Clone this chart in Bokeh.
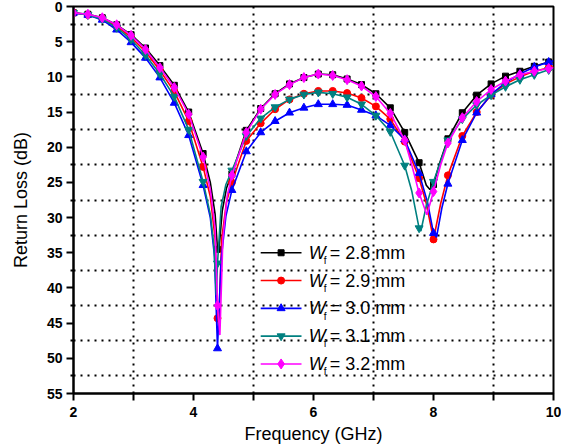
from bokeh.plotting import figure
from bokeh.models import Range1d, FixedTicker, ColumnDataSource
from bokeh.core.properties import value
from bokeh.embed import file_html
from bokeh.resources import INLINE

# Frequencies (GHz) at which each trace carries a symbol
freq = [2.00, 2.24, 2.48, 2.72, 2.96, 3.20, 3.44, 3.68, 3.92, 4.16,
        4.40, 4.64, 4.88, 5.12, 5.36, 5.60, 5.84, 6.08, 6.32, 6.56,
        6.80, 7.04, 7.28, 7.52, 7.76, 8.00, 8.24, 8.48, 8.72, 8.96,
        9.20, 9.44, 9.68, 9.92]
f_stop = 10.0

# Return loss (dB) at the symbol frequencies, one list per feed width
rl_28 = [0.9, 1.1, 1.6, 2.6, 4.0, 5.9, 8.4, 11.2, 15.0, 20.9,
         34.5, 23.8, 17.6, 14.5, 12.4, 11.0, 10.1, 9.6, 9.7, 10.3,
         11.1, 12.4, 14.4, 17.9, 22.2, 25.3, 18.8, 15.1, 12.6, 11.0,
         9.9, 9.2, 8.5, 7.9]
rl_29 = [0.9, 1.2, 1.7, 2.8, 4.4, 6.4, 9.1, 12.1, 16.3, 22.8,
         44.3, 25.0, 19.1, 16.6, 14.6, 13.2, 12.4, 12.0, 12.0, 12.3,
         13.0, 14.2, 16.0, 19.2, 24.4, 33.1, 24.0, 18.4, 15.0, 12.6,
         11.0, 10.0, 9.2, 8.7]
rl_30 = [0.9, 1.2, 1.9, 3.3, 5.1, 7.3, 10.1, 13.7, 18.3, 25.4,
         48.6, 26.1, 20.6, 17.9, 16.3, 15.1, 14.4, 13.9, 13.9, 14.0,
         14.7, 15.5, 16.9, 18.9, 23.7, 32.2, 25.2, 19.0, 15.1, 12.5,
         10.8, 9.6, 8.6, 7.9]
rl_31 = [0.9, 1.2, 1.8, 3.0, 4.7, 6.9, 9.6, 12.8, 17.5, 24.9,
         36.5, 23.3, 18.4, 15.9, 14.3, 13.2, 12.5, 12.2, 12.4, 12.9,
         13.9, 15.5, 17.8, 22.6, 31.5, 24.9, 19.0, 16.0, 14.0, 12.6,
         11.4, 10.4, 9.7, 9.0]
rl_32 = [0.9, 1.1, 1.6, 2.6, 4.1, 6.1, 8.7, 11.5, 15.3, 21.4,
         42.5, 24.0, 17.9, 14.6, 12.5, 11.1, 10.1, 9.6, 9.8, 10.4,
         11.3, 12.8, 15.2, 19.0, 26.5, 26.3, 19.4, 15.8, 13.5, 11.8,
         10.6, 9.7, 9.2, 8.8]

# Return loss at the stop frequency
rl_stop = [7.8, 8.6, 7.7, 8.9, 8.7]

# Additional sweep points (between symbols) around the two resonances
dip_f_28 = [4.28, 4.36, 4.42, 4.48, 4.55, 7.88, 7.94, 8.10]
dip_v_28 = [25.0, 29.5, 35.0, 29.0, 25.8, 25.4, 26.0, 22.3]
dip_f_29 = [4.28, 4.36, 4.42, 4.47, 4.55, 7.88, 8.12]
dip_v_29 = [27.0, 33.0, 45.3, 33.0, 27.8, 28.0, 28.0]
dip_f_30 = [4.28, 4.35, 4.46, 4.54, 7.90, 8.05, 8.14]
dip_v_30 = [30.0, 35.5, 36.0, 29.8, 27.8, 32.8, 28.6]
dip_f_31 = [4.28, 4.34, 4.38, 4.46, 4.54, 7.64, 7.79, 7.88]
dip_v_31 = [29.5, 34.0, 41.0, 28.5, 25.3, 26.3, 31.9, 28.3]
dip_f_32 = [4.28, 4.36, 4.44, 4.49, 4.56, 7.64, 7.89, 8.12]
dip_v_32 = [26.0, 31.5, 46.7, 33.0, 27.0, 22.6, 29.6, 22.5]

widths = ["2.8", "2.9", "3.0", "3.1", "3.2"]
series_rl = [rl_28, rl_29, rl_30, rl_31, rl_32]
series_dip_f = [dip_f_28, dip_f_29, dip_f_30, dip_f_31, dip_f_32]
series_dip_v = [dip_v_28, dip_v_29, dip_v_30, dip_v_31, dip_v_32]

x_major = [2, 4, 6, 8, 10]
x_minor = [3, 5, 7, 9]
y_major = [0, 5, 10, 15, 20, 25, 30, 35, 40, 45, 50, 55]
y_minor = [2.5, 7.5, 12.5, 17.5, 22.5, 27.5, 32.5, 37.5, 42.5, 47.5, 52.5]

# Trace styles
colors = ["#000000", "#ff0000", "#0000ff", "#008080", "#ff00ff"]
markers = ["square", "circle", "triangle", "inverted_triangle", "diamond"]
msizes = [6, 7, 8, 8, 10]

FONT = "Liberation Sans"

p = figure(width=561, height=446,
           x_range=Range1d(2, 10), y_range=Range1d(55, 0),
           output_backend="svg", toolbar_location=None,
           min_border_left=73, min_border_right=8,
           min_border_top=6, min_border_bottom=52)
p.background_fill_color = "white"
p.border_fill_color = "white"
p.outline_line_color = "black"
p.outline_line_width = 2

# Axes
p.xaxis.ticker = FixedTicker(ticks=x_major, minor_ticks=x_minor)
p.yaxis.ticker = FixedTicker(ticks=y_major, minor_ticks=y_minor)
for ax in (p.xaxis, p.yaxis):
    ax.axis_line_width = 2
    ax.axis_line_color = "black"
    ax.major_tick_line_width = 2
    ax.major_tick_line_color = "black"
    ax.minor_tick_line_width = 2
    ax.minor_tick_line_color = "black"
    ax.major_tick_in = 0
    ax.minor_tick_in = 0
    ax.major_label_text_font = FONT
    ax.major_label_text_font_style = "bold"
    ax.major_label_text_font_size = "14px"
    ax.major_label_text_color = "black"
    ax.axis_label_text_font = FONT
    ax.axis_label_text_font_style = "normal"
    ax.axis_label_text_font_size = "18px"
    ax.axis_label_text_color = "black"
p.xaxis.major_tick_out = 7
p.xaxis.minor_tick_out = 7
p.yaxis.major_tick_out = 7
p.yaxis.minor_tick_out = 3
p.xaxis.major_label_standoff = 6
p.yaxis.major_label_standoff = 4
p.xaxis.axis_label = "Frequency (GHz)"
p.yaxis.axis_label = "Return Loss (dB)"
p.xaxis.axis_label_standoff = 4
p.yaxis.axis_label_standoff = 13

# Dotted grid on the intermediate positions
p.xgrid.ticker = FixedTicker(ticks=x_minor)
p.ygrid.ticker = FixedTicker(ticks=y_minor)
for g in (p.xgrid, p.ygrid):
    g.grid_line_color = "black"
    g.grid_line_width = 2
    g.grid_line_dash = "2 5"

# Traces
for i in range(5):
    pts = sorted(zip(freq + series_dip_f[i] + [f_stop],
                     series_rl[i] + series_dip_v[i] + [rl_stop[i]]))
    lx = [a for a, b in pts]
    ly = [b for a, b in pts]
    p.line(lx, ly, line_color=colors[i], line_width=1.6)
    p.scatter(freq, series_rl[i], marker=markers[i], size=msizes[i],
              fill_color=colors[i], line_color=colors[i])

# Legend block drawn inside the plot area
leg_x0, leg_x1, leg_xm = 5.12, 5.80, 5.46
leg_top, leg_step = 35.0, 3.95
leg_rows = [leg_top + i * leg_step for i in range(5)]
for i in range(5):
    y = leg_rows[i]
    p.line([leg_x0, leg_x1], [y, y], line_color=colors[i], line_width=1.6)
    p.scatter([leg_xm], [y], marker=markers[i], size=msizes[i],
              fill_color=colors[i], line_color=colors[i])

w_src = ColumnDataSource(dict(x=[5.92] * 5, y=leg_rows, t=["W"] * 5))
f_src = ColumnDataSource(dict(x=[6.17] * 5, y=[r + 1.1 for r in leg_rows], t=["f"] * 5))
v_src = ColumnDataSource(dict(x=[6.27] * 5, y=leg_rows,
                              t=["= " + w + " mm" for w in widths]))
p.text(x="x", y="y", text="t", source=w_src, text_font=value(FONT),
       text_font_style="italic", text_font_size="18px", text_color="black",
       text_baseline="middle", text_align="left")
p.text(x="x", y="y", text="t", source=f_src, text_font=value(FONT),
       text_font_size="10px", text_color="black",
       text_baseline="middle", text_align="left")
p.text(x="x", y="y", text="t", source=v_src, text_font=value(FONT),
       text_font_size="18px", text_color="black",
       text_baseline="middle", text_align="left")

open("out.html", "w").write(file_html(p, INLINE))
